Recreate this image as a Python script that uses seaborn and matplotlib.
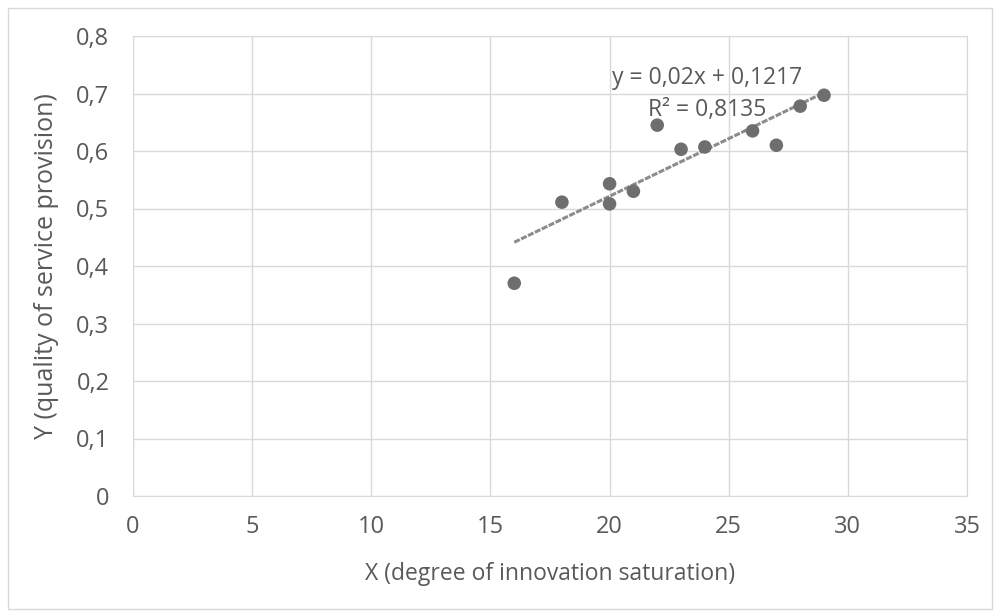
import numpy as np
import pandas as pd
import matplotlib.pyplot as plt
import seaborn as sns
from matplotlib.patches import Rectangle

# values
x_vals = [16, 18, 20, 20, 21, 22, 23, 24, 26, 27, 28, 29]
y_vals = [0.370, 0.511, 0.543, 0.508, 0.530, 0.645, 0.603, 0.607, 0.635, 0.610, 0.678, 0.697]
x_ticks = [0, 5, 10, 15, 20, 25, 30, 35]
y_ticks = [0, 0.1, 0.2, 0.3, 0.4, 0.5, 0.6, 0.7, 0.8]
eq_text = "y = 0,02x + 0,1217\nR² = 0,8135"

df = pd.DataFrame({"x": x_vals, "y": y_vals})

sns.set_style("white")
plt.rcParams['font.family'] = ['Open Sans', 'DejaVu Sans']
txt = "#595959"

fig = plt.figure(figsize=(9.95, 6.11), dpi=100)
ax = fig.add_axes([133 / 995, 1 - 496 / 611, (967 - 133) / 995, (496 - 36) / 611])

# outer chart border
fig.patches.append(Rectangle((8 / 995, 2 / 611), 984 / 995, 601 / 611, transform=fig.transFigure,
                             fill=False, edgecolor="#d9d9d9", linewidth=1))

sns.regplot(data=df, x="x", y="y", ax=ax, ci=None,
            scatter_kws=dict(s=95, color="#6e6e6e", edgecolor="none", alpha=1, zorder=3),
            line_kws=dict(color="#8c8c8c", linestyle="--", linewidth=2.2, dashes=(2, 0.5), zorder=2))

ax.set_xlim(0, 35)
ax.set_ylim(0, 0.8)
ax.set_xticks(x_ticks)
ax.set_yticks(y_ticks)
ax.set_xticklabels([str(t) for t in x_ticks])
ax.set_yticklabels(["0" if t == 0 else f"{t:.1f}".replace(".", ",") for t in y_ticks])
ax.grid(True, color="#d9d9d9", linewidth=1)
for s in ax.spines.values():
    s.set_color("#d9d9d9")
ax.tick_params(axis="both", colors=txt, labelsize=17, length=0)
ax.tick_params(axis="y", pad=17)
ax.tick_params(axis="x", pad=14)
ax.set_xlabel("X (degree of innovation saturation)", color=txt, fontsize=16.5, labelpad=16)
ax.set_ylabel("Y (quality of service provision)", color=txt, fontsize=18, labelpad=12)

# trendline equation label
ax.text(24.1, 0.699, eq_text, ha="center", va="center", color=txt, fontsize=16.5, linespacing=1.4)

fig.savefig("out.png", dpi=100)
